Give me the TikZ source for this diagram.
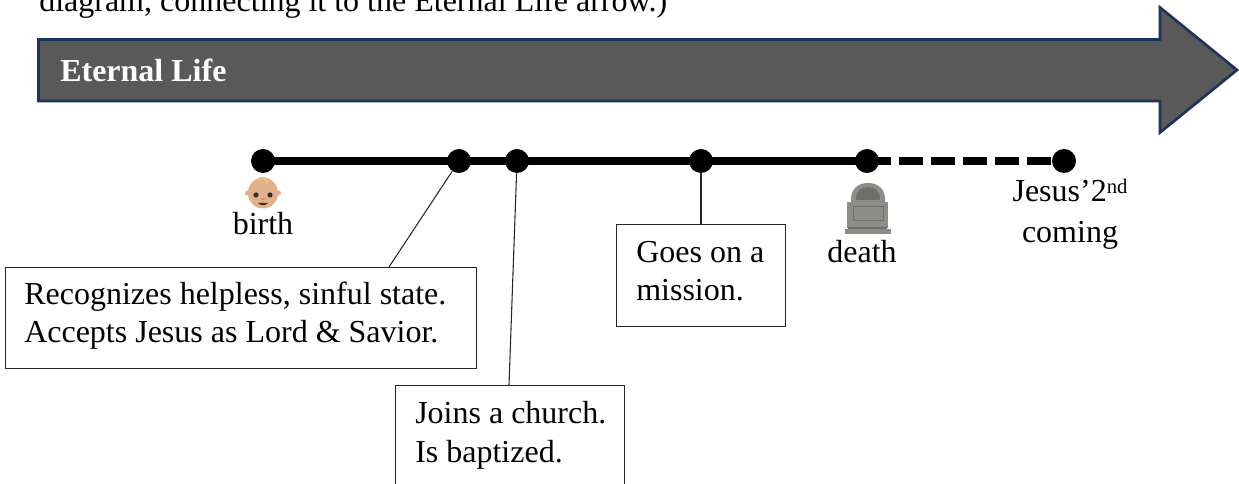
\documentclass[tikz,border=0pt]{standalone}
\usepackage{fontspec}
\setmainfont{Liberation Serif}
\definecolor{arrowfill}{HTML}{595959}
\definecolor{arrowline}{HTML}{1F3358}
\definecolor{stone}{HTML}{8C8C88}
\definecolor{stonedark}{HTML}{6E6E6A}
\definecolor{skin}{HTML}{E3B08C}
\definecolor{skindark}{HTML}{C98F68}
\definecolor{hairc}{HTML}{E2C77E}
\tikzset{
  dot/.style={circle,fill=black,inner sep=0pt,minimum size=18pt},
  txt/.style={font=\fontsize{24pt}{27pt}\selectfont,inner sep=0pt,align=left},
  ctxt/.style={font=\fontsize{24pt}{27pt}\selectfont,inner sep=0pt,align=center},
  labelbox/.style={draw=black!85,line width=0.9pt,fill=white,inner sep=0pt},
  tline/.style={line width=6pt},
  leader/.style={draw=black!85,line width=0.8pt}
}
\begin{document}
\begin{tikzpicture}[x=0.75pt,y=-0.75pt]
\useasboundingbox (0,0) rectangle (1239,484);
\begin{scope}
\clip (0,0) rectangle (1239,484);
% clipped sentence
\node[txt,anchor=base west] (top) at (39,12) {diagram, connecting it to the Eternal Life arrow.)};
% big arrow
\draw[fill=arrowfill,draw=arrowline,line width=2pt,miter limit=10]
 (38.5,39.5) -- (1160,39.5) -- (1160,7.5) -- (1237,70) -- (1160,132.5) -- (1160,101) -- (38.5,101) -- cycle;
\node[txt,anchor=base west,text=white,font=\fontsize{24pt}{27pt}\selectfont\bfseries] (life) at (60,82) {Eternal Life};
% boxes
\node[labelbox,anchor=north west,minimum width=353.25pt,minimum height=75.75pt] (b1) at (5,267) {};
\node[labelbox,anchor=north west,minimum width=171.75pt,minimum height=90pt] (b2) at (395,385) {};
\node[labelbox,anchor=north west,minimum width=126.75pt,minimum height=76.5pt] (b3) at (616,224) {};
\node[txt,anchor=base west] (t1a) at (24,305) {Recognizes helpless, sinful state.};
\node[txt,anchor=base west] (t1b) at (24,343) {Accepts Jesus as Lord \& Savior.};
\node[txt,anchor=base west] (t2a) at (415,424) {Joins a church.};
\node[txt,anchor=base west] (t2b) at (415,463) {Is baptized.};
\node[txt,anchor=base west] (t3a) at (636,263) {Goes on a};
\node[txt,anchor=base west] (t3b) at (636,301) {mission.};
% dots
\node[dot] (d1) at (263,161) {};
\node[dot] (d2) at (459,161) {};
\node[dot] (d3) at (517,161) {};
\node[dot] (d4) at (701,161) {};
\node[dot] (d5) at (867,161) {};
\node[dot] (d6) at (1064,161) {};
\coordinate (e1) at (389,267);
\coordinate (e2) at (509,385);
\draw[tline] (d1.center) -- (d5.center);
\draw[tline,dash pattern=on 18pt off 6pt] (d5.center) -- (d6.center);
\draw[leader] (d2) -- (e1);
\draw[leader] (d3) -- (e2);
\draw[leader] (d4) -- (d4 |- b3.north);
% labels
\node[ctxt,anchor=base] (birth) at (263,235) {birth};
\node[ctxt,anchor=base] (death) at (862,263) {death};
\node[ctxt,anchor=base] (jesus) at (1070,202) {Jesus’2\raisebox{0.6ex}{\fontsize{15.5pt}{15.5pt}\selectfont nd}};
\node[ctxt,anchor=base] (coming) at (1070,243) {coming};
% baby
\fill[skin] (263,193) ellipse (15 and 15.5);
\fill[skin] (247.5,193) circle (2.5) (278.5,193) circle (2.5);
\draw[hairc,line width=2pt,line cap=round] (260,178.5) .. controls (264,177) and (267,180) .. (267,183);
\fill[black!80] (256,195) circle (2.6) (270,195) circle (2.6);
\fill[skindark] (263,199) ellipse (2 and 1.2);
\fill[black!70!skindark] (258,203) .. controls (261,206) and (265,206) .. (268,203) -- cycle;
% headstone
\fill[stone] (851,202) -- (851,199) .. controls (851,189) and (858,183) .. (868,183) .. controls (878,183) and (885,189) .. (885,199) -- (885,202) -- cycle;
\fill[stonedark] (856,200) .. controls (856,191) and (861,187) .. (868,187) .. controls (875,187) and (880,191) .. (880,200) -- cycle;
\fill[stone] (847,202) rectangle (888,228);
\draw[stonedark,line width=0.7pt] (853,206) rectangle (883,220);
\fill[stonedark] (848,227) rectangle (887,229);
\fill[stone] (845,229) rectangle (891,234);
\end{scope}
\end{tikzpicture}
\end{document}
